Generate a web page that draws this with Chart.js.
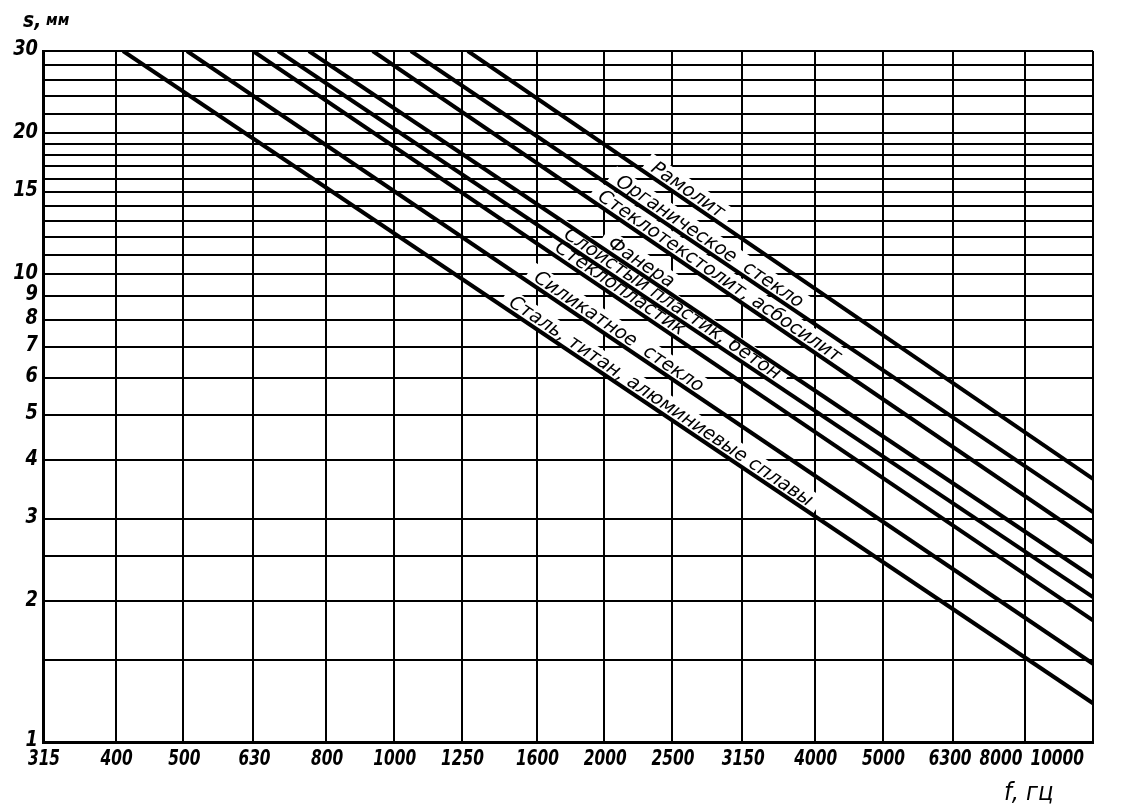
<!DOCTYPE html>
<html>
<head>
<meta charset="utf-8">
<script src="https://cdn.jsdelivr.net/npm/chart.js@4.4.1/dist/chart.umd.min.js"></script>
<style>
  html, body { margin: 0; padding: 0; background: #fff; }
  #wrap { width: 1130px; height: 811px; position: relative; }
</style>
</head>
<body>
<div id="wrap"><canvas id="thickness-chart"></canvas></div>
<script>
// 1/3-octave band frequencies, Hz (x axis)
const freqTicks = [315, 400, 500, 630, 800, 1000, 1250, 1600, 2000, 2500, 3150, 4000, 5000, 6300, 8000, 10000];
// horizontal grid lines of thickness s, mm
const sTicks = [1, 1.5, 2, 2.5, 3, 4, 5, 6, 7, 8, 9, 10, 11, 12, 13, 14, 15, 16, 17, 18, 19, 20, 22, 24, 26, 28, 30];
const sLabeled = [1, 2, 3, 4, 5, 6, 7, 8, 9, 10, 15, 20, 30];

// materials, lowest line first
const materials = [
  'Сталь, титан, алюминиевые сплавы',
  'Силикатное  стекло',
  'Стеклопластик',
  'Слоистый пластик, бетон',
  'Фанера',
  'Стеклотекстолит, асбосилит',
  'Органическое  стекло',
  'Рамолит'
];
// frequency where each line leaves the top (s = 30 mm)
const startFreq = [410, 506, 629, 683, 756, 933, 1058, 1276];
const startS = [30, 30, 30, 30, 30, 30, 30, 30];
// thickness where each line reaches 10000 Hz
const endFreq = [10000, 10000, 10000, 10000, 10000, 10000, 10000, 10000];
const endS = [1.21, 1.47, 1.82, 2.04, 2.25, 2.67, 3.1, 3.65];

// where each name starts along its line (Hz)
const labelFreq = [1445, 1569, 1681, 1732, 2001, 1937, 2055, 2307];

// draws text squeezed sideways, like the narrow print of the original
function narrowText(ctx, text, x, y, sx, align) {
  ctx.save();
  ctx.translate(x, y);
  ctx.scale(sx, 1);
  ctx.textAlign = align;
  ctx.fillText(text, 0, 0);
  ctx.restore();
}

const lineLabels = {
  id: 'lineLabels',
  beforeDatasetsDraw(chart) {
    const ctx = chart.ctx;
    const xs = chart.scales.x, ys = chart.scales.y;
    ctx.save();
    ctx.font = 'italic 19px "DejaVu Sans", sans-serif';
    const spots = materials.map((name, i) => {
      const x0 = xs.getPixelForValue(startFreq[i]), y0 = ys.getPixelForValue(startS[i]);
      const x1 = xs.getPixelForValue(endFreq[i]), y1 = ys.getPixelForValue(endS[i]);
      const t = Math.log(labelFreq[i] / startFreq[i]) / Math.log(endFreq[i] / startFreq[i]);
      return { name, x: x0 + t * (x1 - x0), y: y0 + t * (y1 - y0), a: Math.atan2(y1 - y0, x1 - x0) };
    });
    // white strips break the grid under the names
    spots.forEach(s => {
      const w = ctx.measureText(s.name).width;
      ctx.save();
      ctx.translate(s.x, s.y);
      ctx.rotate(s.a);
      ctx.fillStyle = '#fff';
      ctx.fillRect(-8, -20, w + 16, 19);
      ctx.restore();
    });
    spots.forEach(s => {
      ctx.save();
      ctx.translate(s.x, s.y);
      ctx.rotate(s.a);
      ctx.fillStyle = '#000';
      ctx.textBaseline = 'alphabetic';
      ctx.fillText(s.name, 0, -4);
      ctx.restore();
    });
    ctx.restore();
  },
  afterDraw(chart) {
    const ctx = chart.ctx;
    const xs = chart.scales.x, ys = chart.scales.y;
    const area = chart.chartArea;
    ctx.save();
    ctx.fillStyle = '#000';

    // y tick labels
    ctx.font = 'italic bold 21px "DejaVu Sans", sans-serif';
    ctx.textBaseline = 'middle';
    sLabeled.forEach(v => narrowText(ctx, String(v), area.left - 5, ys.getPixelForValue(v) - 1, 0.85, 'right'));

    // x tick labels, pushed left at the crowded right end
    ctx.font = 'italic bold 22px "DejaVu Sans", sans-serif';
    ctx.textBaseline = 'alphabetic';
    const sx = 0.7;
    let limit = area.right - 10;
    const xl = [];
    for (let i = freqTicks.length - 1; i >= 0; i--) {
      const txt = String(freqTicks[i]);
      const w = ctx.measureText(txt).width * sx;
      let c = xs.getPixelForValue(freqTicks[i]);
      if (c + w / 2 > limit) c = limit - w / 2;
      xl[i] = c;
      limit = c - w / 2 - 8;
    }
    freqTicks.forEach((v, i) => narrowText(ctx, String(v), xl[i] + 1, area.bottom + 23, sx, 'center'));

    // axis titles
    ctx.font = 'italic bold 22px "DejaVu Sans", sans-serif';
    narrowText(ctx, 's,', 23, 27, 0.85, 'left');
    ctx.font = 'italic bold 15px "DejaVu Sans", sans-serif';
    narrowText(ctx, 'мм', 46, 25, 0.95, 'left');
    ctx.font = 'italic 24px "DejaVu Sans", sans-serif';
    narrowText(ctx, 'f, гц', 1004, 800, 0.95, 'left');
    ctx.restore();
  }
};

const datasets = materials.map((name, i) => ({
  label: name,
  data: [{ x: startFreq[i], y: startS[i] }, { x: endFreq[i], y: endS[i] }],
  borderColor: '#000',
  borderWidth: 4,
  pointRadius: 0,
  fill: false,
  tension: 0
}));

const ctx1 = document.getElementById('thickness-chart').getContext('2d');
const thicknessChart = new Chart(ctx1, {
  type: 'line',
  data: { datasets: datasets },
  options: {
    responsive: true,
    maintainAspectRatio: false,
    animation: false,
    layout: { padding: { top: 51, right: 37, bottom: 0, left: 0 } },
    plugins: {
      legend: { display: false },
      tooltip: { enabled: false }
    },
    scales: {
      x: {
        type: 'logarithmic',
        min: 315,
        max: 10000,
        afterBuildTicks: s => { s.ticks = freqTicks.map(v => ({ value: v })); },
        afterFit: s => { s.height = 69; },
        ticks: { display: false, autoSkip: false },
        grid: { color: '#000', lineWidth: 2, drawTicks: false },
        border: { color: '#000', width: 3 }
      },
      y: {
        type: 'logarithmic',
        min: 1,
        max: 30,
        afterBuildTicks: s => { s.ticks = sTicks.map(v => ({ value: v })); },
        afterFit: s => { s.width = 43; },
        ticks: { display: false, autoSkip: false },
        grid: { color: '#000', lineWidth: 2, drawTicks: false },
        border: { color: '#000', width: 3 }
      }
    }
  },
  plugins: [lineLabels]
});
</script>
</body>
</html>
